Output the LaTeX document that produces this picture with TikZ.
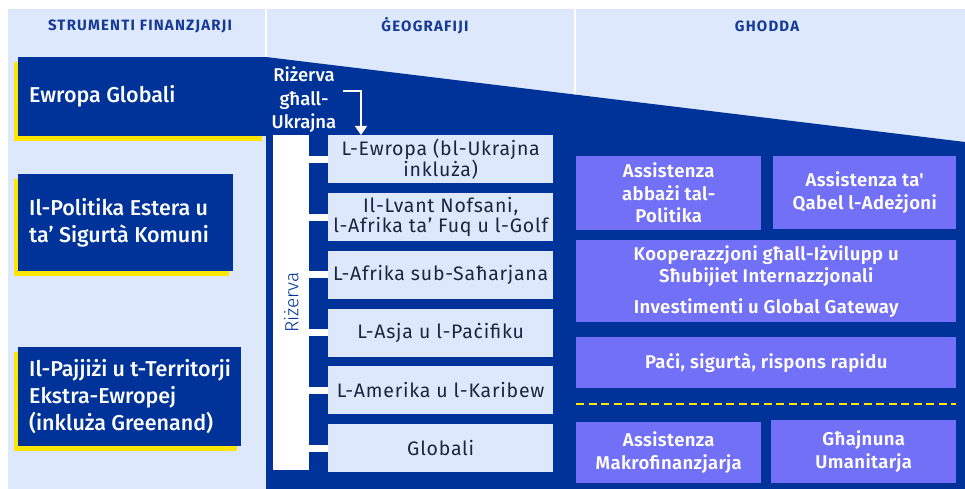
\documentclass[tikz,border=0pt]{standalone}
\usepackage{fontspec}
\setmainfont{Fira Sans}
\newfontfamily\medfont{Fira Sans Medium}
\newfontfamily\semifont{Fira Sans SemiBold}
\newfontfamily\lightfont{Fira Sans Light}
\usetikzlibrary{shapes,arrows.meta,shadows,positioning}
\definecolor{eublue}{RGB}{0,51,153}
\definecolor{panel}{RGB}{222,232,252}
\definecolor{euyellow}{RGB}{255,230,0}
\definecolor{toolfill}{RGB}{114,112,246}
\definecolor{geotext}{RGB}{28,36,62}
\definecolor{headtext}{RGB}{22,58,150}

\tikzset{
  header/.style={text=headtext, font=\bfseries\fontsize{15}{17}\selectfont\addfontfeatures{LetterSpace=8}},
  instbox/.style={fill=eublue, anchor=north west, inner sep=0pt,
    drop shadow={shadow xshift=-4pt, shadow yshift=-5pt, fill=euyellow, opacity=1}},
  insttext/.style={text=white, inner sep=0pt, align=left, font=\medfont\fontsize{21.5}{27}\selectfont},
  geobox/.style={fill=panel, text=geotext, anchor=north west, inner sep=0pt, align=center,
    minimum width=225pt, minimum height=48pt, font=\fontsize{19.5}{20.5}\selectfont\addfontfeatures{LetterSpace=4}},
  toolbox/.style={fill=toolfill, text=white, anchor=north west, inner sep=0pt, align=center,
    font=\semifont\fontsize{18.5}{22.5}\selectfont\addfontfeatures{LetterSpace=2}},
  link/.style={white, line width=7pt}
}

\begin{document}
\begin{tikzpicture}[x=1pt, y=-1pt]
\useasboundingbox (0,0) rectangle (965,489);
\fill [panel] (8,9) rectangle (965,489);
\draw [white, line width=2pt] (266,9) -- (266,57);
\draw [white, line width=2pt] (575,9) -- (575,95);
\fill [eublue] (266,57) -- (965,142) -- (965,489) -- (266,489) -- cycle;

\node [header] (h_instr) at (140,26) {STRUMENTI FINANZJARJI};
\node [header] (h_geo) at (425,26) {ĠEOGRAFIJI};
\node [header] (h_tools) at (767,26) {GHODDA};

\node [instbox, minimum width=248pt, minimum height=79pt] (i_global) at (18,57) {};
\node [instbox, minimum width=215pt, minimum height=97pt] (i_cfsp) at (18,174) {};
\node [instbox, minimum width=223pt, minimum height=99pt] (i_octs) at (18,347) {};
\node [insttext, right=11pt of i_global.west] (i_global_txt) {Ewropa Globali};
\node [insttext, right=11pt of i_cfsp.west] (i_cfsp_txt) {Il-Politika Estera u\\ta’ Sigurtà Komuni};
\node [insttext, right=11pt of i_octs.west] (i_octs_txt) {Il-Pajjiżi u t-Territorji\\Ekstra-Ewropej\\(inkluża Greenand)};

\node [fill=white, inner sep=0pt, minimum width=36pt, minimum height=335pt, anchor=north west] (reserve) at (273,135) {};
\node [rotate=90, text=eublue, font=\lightfont\fontsize{19}{21}\selectfont] (reserve_lbl) at (reserve.center) {Riżerva};

\node [geobox] (geo_eur) at (328,135) {L-Ewropa (bl-Ukrajna\\inkluża)};
\node [geobox, below=9.4pt of geo_eur] (geo_mena) {Il-Lvant Nofsani,\\l-Afrika ta’ Fuq u l-Golf};
\node [geobox, below=9.4pt of geo_mena] (geo_ssa) {L-Afrika sub-Saħarjana};
\node [geobox, below=9.4pt of geo_ssa] (geo_asia) {L-Asja u l-Paċifiku};
\node [geobox, below=9.4pt of geo_asia] (geo_amer) {L-Amerika u l-Karibew};
\node [geobox, below=9.4pt of geo_amer] (geo_glob) {Globali};

\draw [link] (reserve.east |- geo_eur.west) -- (geo_eur.west);
\draw [link] (reserve.east |- geo_mena.west) -- (geo_mena.west);
\draw [link] (reserve.east |- geo_ssa.west) -- (geo_ssa.west);
\draw [link] (reserve.east |- geo_asia.west) -- (geo_asia.west);
\draw [link] (reserve.east |- geo_amer.west) -- (geo_amer.west);
\draw [link] (reserve.east |- geo_glob.west) -- (geo_glob.west);

\node [text=white, align=center, font=\medfont\fontsize{18.5}{23.5}\selectfont] (ukr) at (304,100) {Riżerva\\għall-\\Ukrajna};
\coordinate (ukr_out) at (343,91);
\coordinate (ukr_in) at (361,135);
\draw [white, line width=1.5pt, -{Triangle[width=12pt,length=9pt]}] (ukr_out) -| (ukr_in);

\node [toolbox, minimum width=185pt, minimum height=74pt] (t_policy) at (576,156) {Assistenza\\abbażi tal-\\Politika};
\node [toolbox, minimum width=183pt, minimum height=73pt] (t_preacc) at (773,156) {Assistenza ta\textquotesingle\\Qabel l-Adeżjoni};
\node [toolbox, minimum width=380pt, minimum height=82pt] (t_coop) at (576,240) {Kooperazzjoni għall-Iżvilupp u\\Sħubijiet Internazzjonali\\[8pt]Investimenti u Global Gateway};
\node [toolbox, minimum width=380pt, minimum height=51pt] (t_peace) at (576,337) {Paċi, sigurtà, rispons rapidu};

\coordinate (split_w) at (576,404);
\coordinate (split_e) at (956,404);
\draw [euyellow, line width=2.5pt, dash pattern=on 8pt off 4.5pt] (split_w) -- (split_e);

\node [toolbox, minimum width=185pt, minimum height=61pt] (t_macro) at (576,422) {Assistenza\\Makrofinanzjarja};
\node [toolbox, minimum width=185pt, minimum height=63pt] (t_human) at (771,420) {Għajnuna\\Umanitarja};
\end{tikzpicture}
\end{document}
